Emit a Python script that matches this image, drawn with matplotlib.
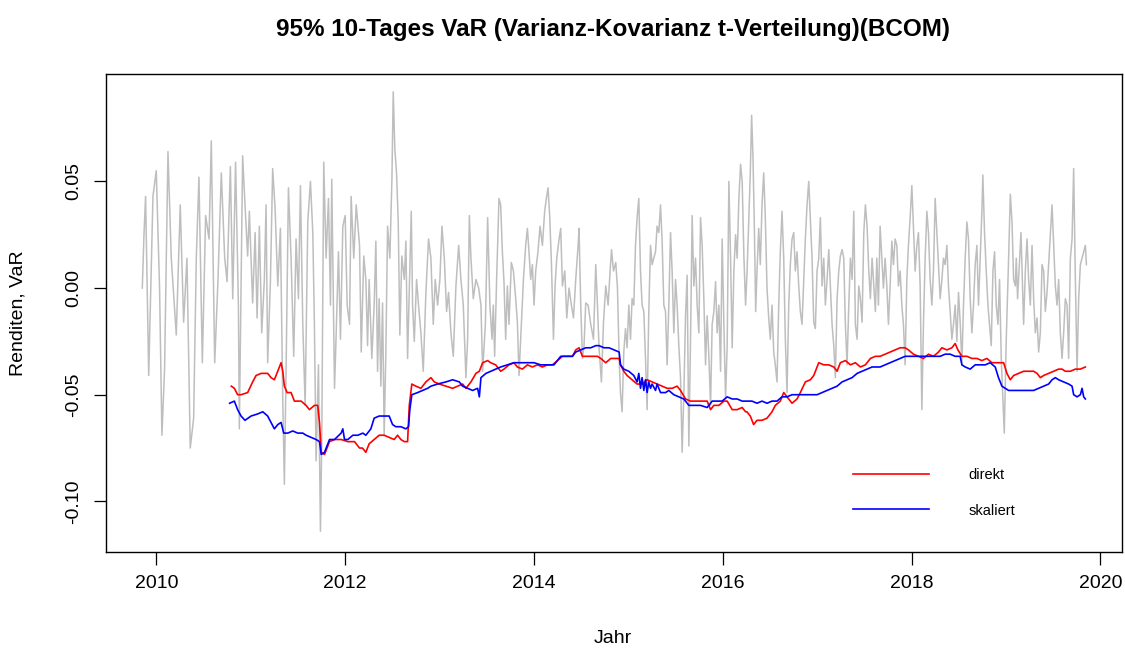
import matplotlib
matplotlib.use("Agg")
import matplotlib.pyplot as plt

# 10-Tages-Renditen (grau)
rend_jahr = [
    2009.852, 2009.870, 2009.887, 2009.920, 2009.965, 2010.000, 2010.035, 2010.060, 2010.088, 2010.124,
    2010.159, 2010.212, 2010.254, 2010.290, 2010.325, 2010.360, 2010.396, 2010.424, 2010.452, 2010.488,
    2010.523, 2010.559, 2010.583, 2010.619, 2010.654, 2010.689, 2010.725, 2010.750, 2010.785, 2010.810,
    2010.840,
    2010.870, 2010.880, 2010.915, 2010.940, 2010.968, 2010.986, 2011.021, 2011.047, 2011.068, 2011.092,
    2011.117, 2011.145, 2011.163, 2011.180, 2011.209, 2011.233, 2011.259, 2011.287, 2011.315, 2011.340,
    2011.357, 2011.375, 2011.400, 2011.428, 2011.456, 2011.481, 2011.506, 2011.527, 2011.552, 2011.577,
    2011.605, 2011.633, 2011.658, 2011.675, 2011.693, 2011.718, 2011.739, 2011.753, 2011.774, 2011.799,
    2011.824, 2011.845, 2011.859, 2011.888, 2011.906, 2011.930, 2011.951, 2011.976, 2012.001, 2012.022,
    2012.047, 2012.064, 2012.092, 2012.118, 2012.153, 2012.171, 2012.198,
    2012.220, 2012.238, 2012.255, 2012.283, 2012.308, 2012.326, 2012.344, 2012.361, 2012.379, 2012.397,
    2012.414, 2012.432, 2012.450, 2012.474, 2012.496, 2012.510, 2012.527, 2012.545, 2012.563, 2012.580,
    2012.601, 2012.627, 2012.644, 2012.662, 2012.680, 2012.701, 2012.715, 2012.733, 2012.757, 2012.778,
    2012.803, 2012.828, 2012.856, 2012.884, 2012.909, 2012.934, 2012.955, 2012.980, 2013.004, 2013.026,
    2013.051, 2013.075, 2013.096, 2013.121, 2013.146, 2013.174, 2013.203, 2013.227, 2013.252, 2013.280,
    2013.298, 2013.316, 2013.333, 2013.358, 2013.386, 2013.415, 2013.439, 2013.457, 2013.486, 2013.510,
    2013.534, 2013.556,
    2013.570, 2013.584, 2013.605, 2013.630, 2013.648, 2013.666, 2013.683, 2013.701, 2013.719, 2013.736,
    2013.761, 2013.783, 2013.807, 2013.825, 2013.842, 2013.867, 2013.889, 2013.913, 2013.931, 2013.948,
    2013.966, 2013.984, 2014.001, 2014.019, 2014.043, 2014.065, 2014.090, 2014.114, 2014.132, 2014.150,
    2014.168, 2014.186, 2014.207, 2014.224, 2014.242, 2014.267, 2014.284, 2014.302, 2014.327, 2014.348,
    2014.372, 2014.397, 2014.419, 2014.443, 2014.468, 2014.478, 2014.496, 2014.514, 2014.531, 2014.549,
    2014.574, 2014.602, 2014.631, 2014.655, 2014.673, 2014.690, 2014.715, 2014.737, 2014.761, 2014.786,
    2014.807, 2014.822, 2014.843, 2014.867, 2014.885, 2014.903,
    2014.917, 2014.934, 2014.952, 2014.970, 2014.987, 2015.005, 2015.023, 2015.040, 2015.058, 2015.076,
    2015.093, 2015.111, 2015.129, 2015.146, 2015.164, 2015.182, 2015.199, 2015.217, 2015.235, 2015.252,
    2015.270, 2015.288, 2015.305, 2015.323, 2015.341, 2015.358, 2015.376, 2015.394, 2015.411, 2015.429,
    2015.447, 2015.464, 2015.482, 2015.500, 2015.517, 2015.535, 2015.553, 2015.570, 2015.588, 2015.606,
    2015.623, 2015.641, 2015.659, 2015.676, 2015.694, 2015.712, 2015.729, 2015.747, 2015.765, 2015.782,
    2015.800, 2015.818, 2015.835, 2015.853, 2015.871, 2015.888, 2015.906, 2015.924, 2015.941, 2015.959,
    2015.977, 2015.994, 2016.012, 2016.030, 2016.047, 2016.065, 2016.083, 2016.100, 2016.118, 2016.136,
    2016.153, 2016.171, 2016.189, 2016.206, 2016.224, 2016.242, 2016.258,
    2016.292, 2016.306, 2016.320, 2016.334, 2016.349, 2016.363, 2016.381, 2016.398, 2016.416, 2016.434,
    2016.451, 2016.469, 2016.487, 2016.504, 2016.522, 2016.540, 2016.557, 2016.575, 2016.593, 2016.610,
    2016.628, 2016.646, 2016.663, 2016.681, 2016.699, 2016.716, 2016.734, 2016.752, 2016.769, 2016.787,
    2016.805, 2016.822, 2016.840, 2016.858, 2016.875, 2016.893, 2016.911, 2016.928, 2016.946, 2016.964,
    2016.981, 2016.999, 2017.017, 2017.034, 2017.052, 2017.070, 2017.087, 2017.105, 2017.123, 2017.140,
    2017.158, 2017.176, 2017.193, 2017.211, 2017.229, 2017.246, 2017.264, 2017.282, 2017.299, 2017.317,
    2017.335, 2017.352, 2017.370, 2017.388, 2017.405, 2017.423, 2017.441, 2017.458, 2017.476, 2017.494,
    2017.511, 2017.529, 2017.547, 2017.564, 2017.582, 2017.600, 2017.617,
    2017.632, 2017.649, 2017.667, 2017.685, 2017.702, 2017.720, 2017.738, 2017.755, 2017.773, 2017.791,
    2017.808, 2017.826, 2017.844, 2017.861, 2017.879, 2017.897, 2017.914, 2017.932, 2017.950, 2017.967,
    2017.985, 2018.003, 2018.020, 2018.038, 2018.056, 2018.073, 2018.091, 2018.109, 2018.126, 2018.144,
    2018.162, 2018.179, 2018.197, 2018.215, 2018.232, 2018.250, 2018.268, 2018.285, 2018.303, 2018.321,
    2018.338, 2018.356, 2018.374, 2018.391, 2018.409, 2018.427, 2018.444, 2018.462, 2018.480, 2018.497,
    2018.515, 2018.533, 2018.550, 2018.568, 2018.586, 2018.603, 2018.621, 2018.639, 2018.656, 2018.674,
    2018.692, 2018.709, 2018.727, 2018.745, 2018.755, 2018.773, 2018.791, 2018.809, 2018.826, 2018.844,
    2018.862, 2018.879, 2018.897, 2018.915, 2018.932, 2018.950, 2018.968,
    2018.982, 2019.003, 2019.028, 2019.046, 2019.064, 2019.081, 2019.099, 2019.109, 2019.123, 2019.145,
    2019.159, 2019.173, 2019.187, 2019.205, 2019.223, 2019.240, 2019.258, 2019.276, 2019.293, 2019.311,
    2019.329, 2019.346, 2019.364, 2019.382, 2019.399, 2019.417, 2019.435, 2019.452, 2019.470, 2019.488,
    2019.505, 2019.523, 2019.541, 2019.558, 2019.576, 2019.594, 2019.611, 2019.629, 2019.647, 2019.664,
    2019.682, 2019.700, 2019.717, 2019.735, 2019.753, 2019.770, 2019.788, 2019.806, 2019.823, 2019.841,
    2019.852,
]
rend_wert = [
    0.000, 0.025, 0.043, -0.041, 0.043, 0.055, 0.000, -0.069, -0.038, 0.064,
    0.014, -0.022, 0.039, -0.016, 0.014, -0.075, -0.061, 0.014, 0.052, -0.035,
    0.034, 0.023, 0.069, -0.035, 0.004, 0.054, 0.014, 0.003, 0.057, -0.005,
    0.059,
    -0.008, -0.066, 0.062, 0.039, 0.015, 0.036, -0.007, 0.026, -0.014, 0.029,
    -0.021, 0.004, 0.039, -0.035, 0.003, 0.056, 0.037, 0.001, 0.028, -0.053,
    -0.092, -0.039, 0.047, 0.014, -0.032, 0.023, -0.005, 0.048, -0.017, -0.055,
    0.031, 0.050, 0.026, -0.017, -0.081, -0.036, -0.114, -0.071, 0.059, 0.014,
    0.042, -0.008, 0.051, -0.047, -0.021, 0.017, -0.024, 0.029, 0.034, -0.008,
    -0.017, 0.043, 0.014, 0.039, 0.020, -0.030, 0.015,
    0.004, -0.027, 0.004, -0.033, -0.008, 0.022, -0.039, -0.005, -0.046, -0.007,
    -0.069, -0.030, 0.029, 0.014, 0.051, 0.092, 0.065, 0.054, 0.031, -0.022,
    0.015, 0.004, 0.022, -0.033, -0.002, 0.036, -0.008, -0.025, 0.004, -0.008,
    -0.021, -0.039, -0.002, 0.023, 0.014, -0.017, 0.004, -0.008, 0.004, 0.029,
    0.014, -0.011, -0.002, -0.021, -0.032, 0.001, 0.020, 0.004, -0.008, -0.042,
    -0.024, 0.034, 0.014, -0.005, 0.004, 0.000, -0.008, -0.039, -0.017, 0.033,
    -0.008, -0.024,
    -0.008, -0.032, 0.004, 0.042, 0.039, 0.017, 0.003, -0.024, 0.001, -0.017,
    0.012, 0.008, -0.005, -0.016, -0.041, -0.017, 0.004, 0.020, 0.028, 0.017,
    0.004, 0.011, -0.008, 0.008, 0.017, 0.029, 0.020, 0.036, 0.042, 0.047,
    0.033, 0.011, -0.024, 0.001, 0.014, 0.023, 0.028, 0.001, 0.008, -0.014,
    0.000, -0.008, -0.014, 0.004, 0.020, 0.028, -0.008, -0.033, -0.027, -0.007,
    -0.008, -0.017, -0.024, 0.011, -0.008, -0.028, -0.044, -0.016, 0.001, -0.008,
    0.008, 0.018, 0.008, 0.012, 0.000, -0.033,
    -0.049, -0.058, -0.030, -0.019, -0.028, -0.008, -0.024, -0.005, -0.008, 0.020,
    0.033, 0.042, 0.008, -0.008, -0.011, -0.033, -0.057, -0.011, 0.020, 0.011,
    0.014, 0.017, 0.029, 0.026, 0.039, 0.022, -0.008, -0.011, -0.036, -0.008,
    0.026, 0.008, -0.021, 0.004, -0.008, -0.027, -0.042, -0.077, -0.050, -0.013,
    0.006, -0.074, -0.024, 0.034, 0.001, 0.014, -0.008, -0.021, 0.033, 0.020,
    -0.005, -0.036, -0.013, -0.032, -0.055, -0.017, -0.011, 0.003, -0.021, -0.008,
    -0.039, 0.023, -0.017, -0.052, -0.027, 0.050, 0.014, -0.028, 0.008, 0.025,
    0.014, 0.042, 0.058, 0.050, 0.015, -0.008, 0.008,
    0.054, 0.081, 0.062, 0.031, -0.011, 0.008, 0.028, 0.011, 0.039, 0.054,
    0.033, 0.000, -0.014, -0.024, -0.008, -0.030, -0.036, -0.044, -0.008, 0.017,
    0.036, 0.014, -0.024, -0.049, -0.008, 0.011, 0.023, 0.026, 0.008, 0.017,
    0.001, -0.011, -0.017, 0.004, 0.023, 0.039, 0.050, 0.033, 0.014, -0.016,
    -0.019, 0.008, 0.014, 0.033, 0.001, 0.014, -0.008, 0.004, 0.018, 0.001,
    -0.017, -0.027, -0.042, -0.005, 0.008, 0.015, 0.018, 0.014, -0.017, -0.036,
    -0.008, 0.014, 0.004, 0.036, -0.017, -0.024, 0.001, -0.005, -0.016, 0.026,
    0.039, 0.029, 0.008, -0.005, 0.014, 0.001, -0.011,
    0.014, -0.008, 0.029, 0.014, 0.000, 0.014, 0.001, -0.017, 0.001, 0.022,
    0.011, 0.023, 0.020, 0.001, 0.008, -0.008, -0.017, -0.036, 0.004, 0.020,
    0.033, 0.048, 0.029, 0.008, 0.020, 0.026, 0.001, -0.057, -0.017, 0.014,
    0.036, 0.026, 0.004, -0.008, 0.008, 0.042, 0.026, 0.011, -0.005, 0.004,
    0.014, 0.011, 0.020, 0.001, -0.011, -0.024, -0.017, -0.008, -0.025, -0.002,
    -0.016, -0.036, -0.008, 0.014, 0.031, 0.023, -0.005, -0.021, -0.008, 0.011,
    0.020, -0.008, 0.014, 0.036, 0.053, 0.026, 0.008, -0.008, -0.017, -0.027,
    0.008, 0.017, -0.008, -0.017, 0.004, -0.033, -0.052,
    -0.068, -0.024, 0.014, 0.044, 0.031, 0.004, 0.001, 0.014, -0.005, 0.014,
    0.026, 0.004, -0.017, 0.008, 0.023, 0.004, -0.008, 0.020, -0.005, -0.021,
    -0.014, -0.030, -0.021, 0.011, 0.008, -0.011, -0.002, 0.011, 0.025, 0.039,
    0.020, 0.001, -0.008, 0.004, -0.021, -0.033, -0.021, -0.005, -0.008, -0.033,
    0.014, 0.023, 0.056, 0.004, -0.039, -0.005, 0.011, 0.014, 0.017, 0.020,
    0.011,
]

# VaR direkt (rot)
direkt_jahr = [
    2010.795, 2010.827, 2010.862, 2010.898, 2010.968, 2011.021, 2011.057, 2011.110, 2011.180, 2011.216,
    2011.251, 2011.287, 2011.322, 2011.340, 2011.357, 2011.386, 2011.428, 2011.463, 2011.498, 2011.534,
    2011.587, 2011.622, 2011.675, 2011.710, 2011.729, 2011.747, 2011.782, 2011.835, 2011.888, 2011.958,
    2012.029, 2012.100, 2012.153,
    2012.184, 2012.220, 2012.255, 2012.308, 2012.361, 2012.414, 2012.467, 2012.520, 2012.556, 2012.591,
    2012.627, 2012.662, 2012.680, 2012.707, 2012.750, 2012.803, 2012.856, 2012.909, 2012.945, 2012.998,
    2013.068, 2013.139, 2013.192, 2013.245, 2013.280, 2013.333, 2013.386, 2013.422, 2013.457, 2013.510,
    2013.542, 2013.595, 2013.648, 2013.683, 2013.736, 2013.789, 2013.825, 2013.878, 2013.931, 2013.984,
    2014.037, 2014.090, 2014.143, 2014.196, 2014.249, 2014.302, 2014.355, 2014.408, 2014.443, 2014.478,
    2014.514, 2014.567, 2014.620, 2014.673, 2014.708, 2014.761, 2014.814, 2014.867, 2014.903,
    2014.917, 2014.952, 2014.987, 2015.040, 2015.093, 2015.146, 2015.199, 2015.252, 2015.305, 2015.358,
    2015.411, 2015.464, 2015.517, 2015.553, 2015.606, 2015.659, 2015.712, 2015.782, 2015.835, 2015.871,
    2015.906, 2015.959, 2016.012, 2016.047, 2016.100, 2016.153, 2016.206, 2016.242,
    2016.256, 2016.292, 2016.327, 2016.363, 2016.416, 2016.469, 2016.522, 2016.557, 2016.610, 2016.646,
    2016.681, 2016.734, 2016.787, 2016.822, 2016.875, 2016.928, 2016.964, 2017.017, 2017.070, 2017.123,
    2017.176, 2017.211, 2017.246, 2017.299, 2017.352, 2017.405, 2017.458, 2017.511, 2017.564, 2017.617,
    2017.667, 2017.720, 2017.773, 2017.826, 2017.879, 2017.932, 2017.967, 2018.020, 2018.073, 2018.126,
    2018.179, 2018.232, 2018.285, 2018.321, 2018.374, 2018.427, 2018.462, 2018.491, 2018.533, 2018.586,
    2018.639, 2018.692, 2018.745, 2018.798, 2018.851, 2018.904, 2018.975,
    2019.010, 2019.046, 2019.081, 2019.134, 2019.187, 2019.240, 2019.293, 2019.329, 2019.364, 2019.399,
    2019.452, 2019.505, 2019.558, 2019.594, 2019.629, 2019.682, 2019.735, 2019.788, 2019.841,
]
direkt_var = [
    -0.046, -0.047, -0.050, -0.050, -0.049, -0.044, -0.041, -0.040, -0.040, -0.042,
    -0.043, -0.039, -0.035, -0.039, -0.046, -0.049, -0.049, -0.053, -0.053, -0.053,
    -0.055, -0.057, -0.055, -0.055, -0.063, -0.077, -0.078, -0.072, -0.071, -0.071,
    -0.072, -0.072, -0.075,
    -0.075, -0.077, -0.073, -0.071, -0.069, -0.069, -0.070, -0.071, -0.069, -0.071,
    -0.072, -0.072, -0.055, -0.045, -0.046, -0.047, -0.044, -0.042, -0.044, -0.045,
    -0.046, -0.047, -0.046, -0.045, -0.047, -0.044, -0.040, -0.039, -0.035, -0.034,
    -0.035, -0.036, -0.039, -0.038, -0.036, -0.035, -0.037, -0.038, -0.036, -0.037,
    -0.036, -0.037, -0.036, -0.036, -0.034, -0.032, -0.032, -0.032, -0.029, -0.028,
    -0.032, -0.032, -0.032, -0.032, -0.033, -0.035, -0.033, -0.033, -0.033,
    -0.036, -0.039, -0.041, -0.043, -0.045, -0.045, -0.043, -0.044, -0.045, -0.046,
    -0.047, -0.047, -0.046, -0.048, -0.052, -0.053, -0.053, -0.053, -0.053, -0.057,
    -0.055, -0.055, -0.053, -0.053, -0.057, -0.057, -0.056, -0.058,
    -0.058, -0.060, -0.064, -0.062, -0.062, -0.061, -0.058, -0.055, -0.053, -0.049,
    -0.051, -0.054, -0.052, -0.049, -0.044, -0.043, -0.041, -0.035, -0.036, -0.036,
    -0.037, -0.039, -0.035, -0.034, -0.036, -0.035, -0.037, -0.036, -0.033, -0.032,
    -0.032, -0.031, -0.030, -0.029, -0.028, -0.028, -0.029, -0.031, -0.032, -0.033,
    -0.031, -0.032, -0.030, -0.028, -0.029, -0.028, -0.026, -0.029, -0.032, -0.032,
    -0.033, -0.033, -0.034, -0.033, -0.035, -0.035, -0.035,
    -0.040, -0.043, -0.041, -0.040, -0.039, -0.039, -0.039, -0.040, -0.042, -0.041,
    -0.040, -0.039, -0.038, -0.038, -0.039, -0.039, -0.038, -0.038, -0.037,
]

# VaR skaliert (blau)
skal_jahr = [
    2010.777, 2010.827, 2010.862, 2010.898, 2010.940, 2011.004, 2011.075, 2011.128, 2011.180, 2011.216,
    2011.251, 2011.287, 2011.322, 2011.350, 2011.393, 2011.446, 2011.498, 2011.552, 2011.587, 2011.640,
    2011.693, 2011.729, 2011.747, 2011.782, 2011.835, 2011.888, 2011.958, 2011.976, 2011.994, 2012.029,
    2012.082, 2012.135, 2012.188,
    2012.220, 2012.273, 2012.308, 2012.361, 2012.432, 2012.467, 2012.503, 2012.538, 2012.591, 2012.644,
    2012.672, 2012.686, 2012.707, 2012.768, 2012.821, 2012.874, 2012.909, 2012.980, 2013.068, 2013.139,
    2013.210, 2013.245, 2013.298, 2013.351, 2013.404, 2013.422, 2013.439, 2013.492, 2013.545,
    2013.595, 2013.648, 2013.719, 2013.789, 2013.860, 2013.931, 2014.001, 2014.072, 2014.143, 2014.213,
    2014.249, 2014.284, 2014.355, 2014.408, 2014.443, 2014.496, 2014.549, 2014.602, 2014.655, 2014.690,
    2014.743, 2014.796, 2014.849, 2014.903,
    2014.917, 2014.952, 2015.005, 2015.058, 2015.093, 2015.111, 2015.129, 2015.146, 2015.164, 2015.182,
    2015.199, 2015.217, 2015.235, 2015.252, 2015.288, 2015.305, 2015.341, 2015.394, 2015.429, 2015.482,
    2015.535, 2015.588, 2015.641, 2015.694, 2015.765, 2015.835, 2015.888, 2015.941, 2015.994, 2016.047,
    2016.100, 2016.153, 2016.206, 2016.277,
    2016.310, 2016.363, 2016.416, 2016.469, 2016.522, 2016.575, 2016.628, 2016.681, 2016.734, 2016.787,
    2016.840, 2016.893, 2016.946, 2016.999, 2017.052, 2017.105, 2017.158, 2017.211, 2017.264, 2017.317,
    2017.370, 2017.423, 2017.476, 2017.529, 2017.582,
    2017.614, 2017.667, 2017.720, 2017.773, 2017.826, 2017.879, 2017.932, 2017.985, 2018.038, 2018.091,
    2018.144, 2018.197, 2018.250, 2018.303, 2018.356, 2018.409, 2018.462, 2018.515, 2018.533, 2018.568,
    2018.621, 2018.674, 2018.727, 2018.780, 2018.833, 2018.886, 2018.921, 2018.957,
    2019.028, 2019.081, 2019.134, 2019.187, 2019.240, 2019.293, 2019.346, 2019.399, 2019.452, 2019.488,
    2019.523, 2019.558, 2019.611, 2019.664, 2019.700, 2019.717, 2019.753, 2019.788, 2019.806, 2019.823,
    2019.841,
]
skal_var = [
    -0.054, -0.053, -0.057, -0.060, -0.062, -0.060, -0.059, -0.058, -0.060, -0.063,
    -0.066, -0.064, -0.063, -0.068, -0.068, -0.067, -0.068, -0.068, -0.069, -0.070,
    -0.071, -0.072, -0.078, -0.077, -0.071, -0.071, -0.068, -0.066, -0.071, -0.071,
    -0.069, -0.069, -0.068,
    -0.069, -0.066, -0.061, -0.060, -0.060, -0.060, -0.064, -0.065, -0.065, -0.066,
    -0.065, -0.057, -0.050, -0.049, -0.048, -0.047, -0.046, -0.045, -0.044, -0.043,
    -0.044, -0.046, -0.047, -0.048, -0.047, -0.051, -0.042, -0.040, -0.039,
    -0.038, -0.037, -0.036, -0.035, -0.035, -0.035, -0.035, -0.036, -0.036, -0.036,
    -0.034, -0.032, -0.032, -0.032, -0.030, -0.029, -0.028, -0.028, -0.027, -0.027,
    -0.028, -0.028, -0.029, -0.030,
    -0.036, -0.038, -0.039, -0.041, -0.044, -0.040, -0.047, -0.042, -0.048, -0.043,
    -0.049, -0.044, -0.047, -0.045, -0.048, -0.045, -0.049, -0.049, -0.048, -0.050,
    -0.051, -0.052, -0.055, -0.055, -0.055, -0.056, -0.053, -0.053, -0.053, -0.051,
    -0.052, -0.052, -0.053, -0.053,
    -0.053, -0.054, -0.053, -0.054, -0.053, -0.053, -0.051, -0.051, -0.050, -0.050,
    -0.050, -0.050, -0.050, -0.050, -0.049, -0.048, -0.047, -0.046, -0.044, -0.043,
    -0.042, -0.040, -0.039, -0.038, -0.037,
    -0.037, -0.037, -0.036, -0.035, -0.034, -0.033, -0.032, -0.032, -0.032, -0.032,
    -0.032, -0.032, -0.032, -0.032, -0.031, -0.031, -0.032, -0.032, -0.036, -0.037,
    -0.038, -0.036, -0.036, -0.036, -0.035, -0.037, -0.042, -0.046,
    -0.048, -0.048, -0.048, -0.048, -0.048, -0.048, -0.047, -0.046, -0.045, -0.043,
    -0.042, -0.043, -0.044, -0.045, -0.046, -0.050, -0.051, -0.050, -0.047, -0.051,
    -0.052,
]

x_ticks = [2010, 2012, 2014, 2016, 2018, 2020]
y_ticks = [-0.10, -0.05, 0.00, 0.05]
y_tick_labels = ["-0.10", "-0.05", "0.00", "0.05"]

plt.rcParams["font.family"] = ["Liberation Sans", "DejaVu Sans"]

fig = plt.figure(figsize=(11.25, 6.48), dpi=100)
ax = fig.add_axes([0.094, 0.1486, 0.903, 0.7377])

ax.plot(rend_jahr, rend_wert, color="#bebebe", lw=1.1)
l1, = ax.plot(direkt_jahr, direkt_var, color="red", lw=1.2)
l2, = ax.plot(skal_jahr, skal_var, color="blue", lw=1.2)

ax.set_xlim(2009.465, 2020.225)
ax.set_ylim(-0.1236, 0.1005)
ax.set_xticks(x_ticks)
ax.set_yticks(y_ticks)
ax.set_yticklabels(y_tick_labels, rotation=90, va="center")
ax.tick_params(direction="out", length=9, width=0.9, labelsize=14, pad=8)
for s in ax.spines.values():
    s.set_linewidth(1.0)

ax.legend([l1, l2], ["direkt", "skaliert"], loc="center left",
          bbox_to_anchor=(0.7352, 0.1236), frameon=False, fontsize=10.5,
          handlelength=5.27, handletextpad=2.67, labelspacing=1.5,
          borderpad=0, borderaxespad=0)

fig.text(0.545, 0.955, "95% 10-Tages VaR (Varianz-Kovarianz t-Verteilung)(BCOM)",
         ha="center", va="center", fontsize=17.5, fontweight="bold")
fig.text(0.545, 0.0154, "Jahr", ha="center", va="center", fontsize=14)
fig.text(0.016, 0.5174, "Renditen, VaR", ha="center", va="center",
         rotation=90, fontsize=14)

fig.savefig("out.png", dpi=100)
